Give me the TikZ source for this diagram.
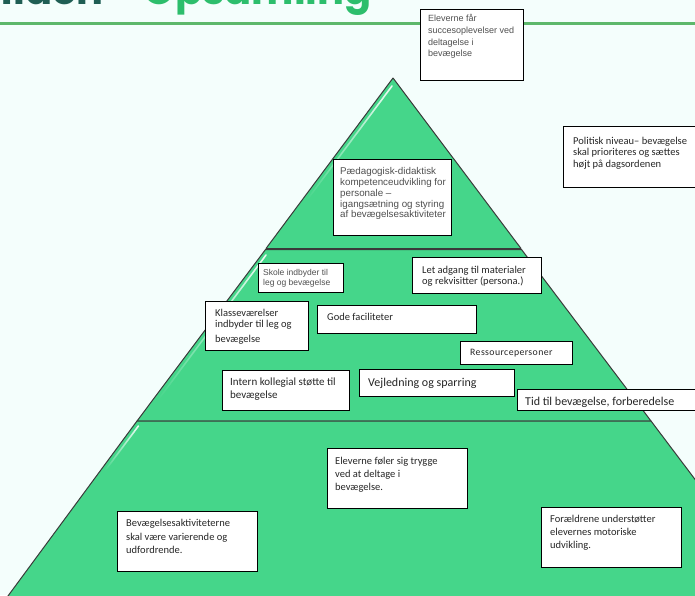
\documentclass[tikz,border=0pt]{standalone}
\usepackage{fontspec}
\setmainfont{Liberation Sans}
\newfontfamily\calfnt{Carlito}
\newfontfamily\popfnt{Poppins}
\usetikzlibrary{fadings}
\definecolor{bg}{HTML}{F4FEFC}
\definecolor{pyr}{HTML}{45D68A}
\definecolor{edgec}{HTML}{3A3A3A}
\definecolor{titledark}{HTML}{1F5E54}
\definecolor{titlegreen}{HTML}{2DBE6C}
\definecolor{rulec}{HTML}{5DB86B}
\definecolor{txt}{HTML}{262626}
\definecolor{txtgray}{HTML}{505050}
\newcommand\tbox[9]{%
  \node[boxsty, minimum width=#4pt, minimum height=#5pt] (#1) at (#2,#3) {};
  \node[lab, #8] (#1t) at ([xshift=#6pt, yshift=-#7pt]#1.north west) {#9};}
\begin{document}
\begin{tikzpicture}[x=1pt,y=-1pt,
  tier/.style={fill=pyr, draw=edgec, line width=1pt, line join=round},
  gloss/.style={draw=white, line width=1.6pt, line cap=round, path fading=south, opacity=0.9},
  boxsty/.style={draw=black, fill=white, line width=0.9pt, inner sep=0pt, anchor=north west},
  lab/.style={anchor=north west, inner sep=0pt, align=left, text=txt},
  ttl/.style={font=\popfnt\bfseries\fontsize{40}{40}\selectfont, inner sep=0pt, anchor=base east},
  grayt/.style={text=txtgray}
]
\path[use as bounding box] (0,0) rectangle (695,595);
\clip (0,0) rectangle (695,595);
\fill[bg] (0,0) rectangle (695,595);
% title
\node[ttl, text=titledark] (t1) at (104,4) {Pyramiden};
\node[ttl, text=titlegreen] (t2) at (372,4) {– Opsamling};
\draw[rulec, line width=2.5pt] (0,23.5) -- (695,23.5);
% pyramid tiers
\draw[tier] (393,78) -- (521,248.5) -- (266,248.5) -- cycle;
\draw[tier] (265.5,249.5) -- (521.5,249.5) -- (651,421) -- (137,421) -- cycle;
\draw[tier] (137,421) -- (651,421) -- (786,600) -- (5,600) -- cycle;
\draw[gloss] (392,86) -- (307,200);
\draw[gloss] (266,255) -- (158,400);
\draw[gloss] (138.4,426) -- (105.6,470);
% boxes
\tbox{b1}{420}{9}{103}{71}{8}{5}{grayt, font=\fontsize{9}{11.8}\selectfont}{Eleverne får\\succesoplevelser ved\\deltagelse i\\bevægelse}
\tbox{b2}{333}{159}{118}{76}{7}{8}{grayt, font=\fontsize{9.8}{10.9}\selectfont}{Pædagogisk-didaktisk\\kompetenceudvikling for\\personale –\\igangsætning og styring\\af bevægelsesaktiviteter}
\tbox{b3}{563}{126}{135}{61}{10}{11}{font=\calfnt\fontsize{10.5}{11.5}\selectfont}{Politisk niveau– bevægelse\\skal prioriteres og sættes\\højt på dagsordenen}
\tbox{b4}{258}{263}{85}{29}{5}{6.5}{grayt, font=\fontsize{8.5}{9.5}\selectfont}{Skole indbyder til\\leg og bevægelse}
\tbox{b5}{412}{257}{129}{36}{10}{9}{font=\calfnt\fontsize{10.5}{11}\selectfont}{Let adgang til materialer\\og rekvisitter (persona.)}
\tbox{b6}{205}{301}{103}{49}{10}{8}{font=\calfnt\fontsize{10.5}{11}\selectfont}{Klasseværelser\\indbyder til leg og\\[4pt]bevægelse}
\tbox{b7}{317}{305}{159}{28}{10}{8}{font=\calfnt\fontsize{10.5}{12}\selectfont}{Gode faciliteter}
\tbox{b8}{460}{341}{112}{23}{10}{8.3}{font=\calfnt\addfontfeatures{LetterSpace=4}\fontsize{9.8}{11}\selectfont}{Ressourcepersoner}
\tbox{b9}{222}{370}{127}{40}{8}{8}{font=\calfnt\fontsize{11}{12.5}\selectfont}{Intern kollegial støtte til\\bevægelse}
\tbox{b10}{359}{369}{155}{27}{9}{8.7}{font=\calfnt\fontsize{12}{14}\selectfont}{Vejledning og sparring}
\tbox{b11}{517}{389}{180}{21}{8}{7.7}{font=\calfnt\fontsize{12}{14}\selectfont}{Tid til bevægelse, forberedelse}
\tbox{b12}{327}{448}{140}{60}{8}{9}{font=\calfnt\fontsize{10.5}{13}\selectfont}{Eleverne føler sig trygge\\ved at deltage i\\bevægelse.}
\tbox{b13}{117}{511}{140}{60}{9}{8}{font=\calfnt\fontsize{10.5}{13.5}\selectfont}{Bevægelsesaktiviteterne\\skal være varierende og\\udfordrende.}
\tbox{b14}{541}{507}{140}{60}{9}{8}{font=\calfnt\fontsize{10.5}{13}\selectfont}{Forældrene understøtter\\elevernes motoriske\\udvikling.}
\end{tikzpicture}
\end{document}
